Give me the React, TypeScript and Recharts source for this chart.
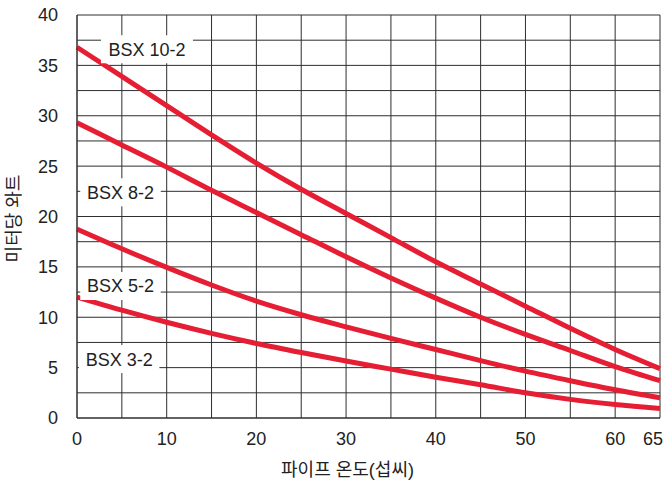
import * as React from 'react';
import {
  CartesianGrid,
  Line,
  LineChart,
  ReferenceDot,
  XAxis,
  YAxis,
} from 'recharts';

// pipe temperature (°C)
const temps = [0, 5, 10, 15, 20, 25, 30, 35, 40, 45, 50, 55, 60, 65];

// watts per metre
const bsx10 = [36.8, 33.9, 31.0, 28.1, 25.3, 22.7, 20.3, 17.9, 15.5, 13.3, 11.1, 8.9, 6.8, 4.9];
const bsx8 = [29.3, 27.1, 24.9, 22.6, 20.4, 18.2, 16.0, 13.9, 11.9, 10.0, 8.3, 6.7, 5.1, 3.7];
const bsx5 = [18.75, 16.8, 14.95, 13.2, 11.6, 10.25, 9.05, 7.9, 6.8, 5.7, 4.65, 3.7, 2.8, 2.0];
const bsx3 = [12.0, 10.7, 9.5, 8.4, 7.4, 6.5, 5.65, 4.85, 4.05, 3.3, 2.5, 1.85, 1.35, 0.95];

const xTicks = [0, 5, 10, 15, 20, 25, 30, 35, 40, 45, 50, 55, 60, 65];
const yTicks = [0, 2.5, 5, 7.5, 10, 12.5, 15, 17.5, 20, 22.5, 25, 27.5, 30, 32.5, 35, 37.5, 40];

// series name labels, placed in data coordinates
const labelNames = ['BSX 10-2', 'BSX 8-2', 'BSX 5-2', 'BSX 3-2'];
const labelX = [7.8, 4.85, 4.85, 4.7];
const labelY = [36.6, 22.4, 13.1, 5.85];

const data = temps.map((t, i) => ({
  t,
  bsx10: bsx10[i],
  bsx8: bsx8[i],
  bsx5: bsx5[i],
  bsx3: bsx3[i],
}));

const FONT = '"Liberation Sans", Arial, "Noto Sans CJK KR", sans-serif';
const RED = '#e61e34';
const GRID = '#2e2e2e';

function XTick(props: any) {
  const { x, y, payload } = props;
  const v = payload.value;
  if (v % 10 !== 0 && v !== 65) return null;
  const shift = v === 65 ? -7 : 0;
  return (
    <text x={x + shift} y={y} dy='0.71em' textAnchor='middle' fontSize={18} fontFamily={FONT} fill='#222'>
      {v}
    </text>
  );
}

function SeriesTag(props: any) {
  const { cx, cy, name } = props;
  const w = name.length * 11.5;
  return (
    <g>
      <rect x={cx - w / 2} y={cy - 14} width={w} height={28} fill='#fff' />
      <text x={cx} y={cy} dy='0.36em' textAnchor='middle' fontSize={18} fontFamily={FONT} fill='#222'>
        {name}
      </text>
    </g>
  );
}

function YTitle(props: any) {
  const { viewBox } = props;
  const x = viewBox.x + 20;
  const y = viewBox.y + viewBox.height / 2 + 2;
  return (
    <text x={x} y={y} transform={`rotate(-90, ${x}, ${y})`} textAnchor='middle' fontSize={18} fontFamily={FONT} fill='#222'>
      미터당 와트
    </text>
  );
}

function XTitle(props: any) {
  const { viewBox } = props;
  const x = viewBox.x + viewBox.width / 2 - 21;
  return (
    <text x={x} y={476} textAnchor='middle' fontSize={18} fontFamily={FONT} fill='#222'>
      파이프 온도(섭씨)
    </text>
  );
}

export default function App() {
  const series = ['bsx10', 'bsx8', 'bsx5', 'bsx3'];
  return (
    <div style={{ position: 'absolute', left: 0, top: 0, background: '#fff' }}>
      <LineChart width={664} height={485} data={data} margin={{ top: 15, right: 4, bottom: 0, left: 0 }}>
        <CartesianGrid stroke={GRID} strokeWidth={1} />
        <XAxis
          dataKey='t'
          type='number'
          domain={[0, 65]}
          ticks={xTicks}
          interval={0}
          height={67}
          tickSize={0}
          tickMargin={14}
          axisLine={{ stroke: GRID }}
          tick={<XTick />}
          label={<XTitle />}
        />
        <YAxis
          type='number'
          domain={[0, 40]}
          ticks={yTicks}
          interval={0}
          width={77}
          tickSize={0}
          tickMargin={19}
          axisLine={{ stroke: GRID }}
          tick={{ fontSize: 18, fontFamily: FONT, fill: '#222' }}
          tickFormatter={(v: number) => (v % 5 === 0 ? String(v) : '')}
          label={<YTitle />}
        />
        {labelNames.map((n, i) => (
          <ReferenceDot
            key={n}
            x={labelX[i]}
            y={labelY[i]}
            r={0}
            ifOverflow='visible'
            shape={(p: any) => <SeriesTag {...p} name={n} />}
          />
        ))}
        {series.map((k) => (
          <Line
            key={k}
            type='monotone'
            dataKey={k}
            stroke={RED}
            strokeWidth={5}
            dot={false}
            isAnimationActive={false}
          />
        ))}
      </LineChart>
    </div>
  );
}
